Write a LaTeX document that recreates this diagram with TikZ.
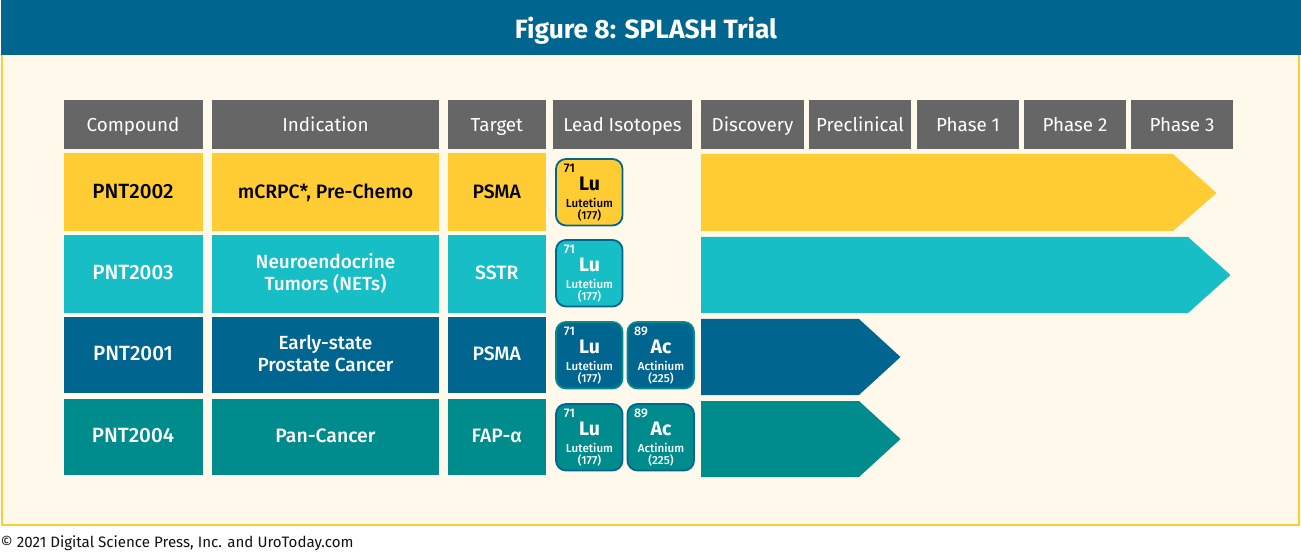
\documentclass[tikz,border=0pt]{standalone}
\usepackage{fontspec}
\setmainfont{Fira Sans}
\newfontfamily\medfont{Fira Sans Medium}
\definecolor{band}{HTML}{006690}
\definecolor{frameY}{HTML}{FFCC33}
\definecolor{paper}{HTML}{FFF9EB}
\definecolor{head}{HTML}{666666}
\definecolor{cyanT}{HTML}{17BEC6}
\definecolor{greenT}{HTML}{008C8C}
\definecolor{inkK}{HTML}{111111}
\tikzset{
  x=1pt,y=-1pt,
  cell/.style={inner sep=0pt,outer sep=0pt,align=center,text height=15pt,text depth=2pt,font=\fontsize{18.8}{22}\selectfont,text=white},
  rowtext/.style={font=\medfont\fontsize{19.4}{22}\selectfont,yshift=1pt},
  pnt/.style={font=\medfont\fontsize{20.6}{22}\selectfont},
  twoline/.style={yshift=-11pt,font=\medfont\fontsize{19}{22}\selectfont},
  darktext/.style={text=black},
  elsym/.style={inner sep=0pt,font=\fontsize{19.5}{20}\selectfont\bfseries},
  elnum/.style={inner sep=0pt,font=\medfont\fontsize{12.5}{13}\selectfont},
  elname/.style={inner sep=0pt,align=center,font=\medfont\fontsize{11.6}{12.2}\selectfont},
  elcard/.style={rounded corners=10pt,line width=1.8pt},
}
% name, x0, y0, x1, y1, fill, extra style, text
\newcommand{\cellbox}[8]{%
  \fill[#6] (#2,#3) rectangle (#4,#5);
  \node[cell,#7] (#1) at ({(#2+#4)/2},{(#3+#5)/2}) {#8};}
% name, x0, y0, fill, border, text colour, number, symbol, label (mass on line 2)
\newcommand{\element}[9]{%
  \draw[elcard,fill=#4,draw=#5] (#2,#3) rectangle ({#2+66.5},{#3+66.5});
  \node[elnum,text=#6]  (#1n) at ({#2+13.5},{#3+9.5}) {#7};
  \node[elsym,text=#6]  (#1s) at ({#2+33.5},{#3+24.7}) {#8};
  \node[elname,text=#6] (#1l) at ({#2+33.5},{#3+51}) {#9};}
\begin{document}
\begin{tikzpicture}
\useasboundingbox (0,0) rectangle (1301,553);
\fill[white] (0,0) rectangle (1301,553);
\draw[frameY,fill=paper,line width=2pt] (2,50) rectangle (1299,525);
\fill[band] (1,0) rectangle (1301,55.5);
\node[inner sep=0pt,text=white,font=\fontsize{26.4}{30}\selectfont\bfseries] (title) at (646,30.5) {Figure 8: SPLASH Trial};
% headers
\cellbox{h1}{63.5}{100}{202.5}{149}{head}{yshift=-0.5pt}{Compound}
\cellbox{h2}{212}{100}{439}{149}{head}{yshift=-0.5pt}{Indication}
\cellbox{h3}{447.5}{100}{546}{149}{head}{yshift=-0.5pt}{Target}
\cellbox{h4}{553}{100}{692}{149}{head}{yshift=-0.5pt}{Lead Isotopes}
\cellbox{h5}{701}{100}{804}{149}{head}{yshift=-0.5pt}{Discovery}
\cellbox{h6}{809}{100}{911}{149}{head}{yshift=-0.5pt}{Preclinical}
\cellbox{h7}{917}{100}{1019}{149}{head}{yshift=-0.5pt}{Phase 1}
\cellbox{h8}{1024}{100}{1126}{149}{head}{yshift=-0.5pt}{Phase 2}
\cellbox{h9}{1131}{100}{1233}{149}{head}{yshift=-0.5pt}{Phase 3}
% row 1
\cellbox{a1}{63.5}{153}{202.5}{231}{frameY}{rowtext,pnt,darktext,yshift=-1pt}{PNT2002}
\cellbox{a2}{212}{153}{439}{231}{frameY}{rowtext,darktext,yshift=-1pt}{mCRPC*, Pre-Chemo}
\cellbox{a3}{447.5}{153}{546}{231}{frameY}{rowtext,darktext,yshift=-1pt}{PSMA}
% row 2
\cellbox{b1}{63.5}{235}{202.5}{313}{cyanT}{rowtext,pnt}{PNT2003}
\cellbox{b2}{212}{235}{439}{313}{cyanT}{rowtext,twoline}{Neuroendocrine\\Tumors (NETs)}
\cellbox{b3}{447.5}{235}{546}{313}{cyanT}{rowtext}{SSTR}
% row 3
\cellbox{c1}{63.5}{317}{202.5}{393}{band}{rowtext,pnt}{PNT2001}
\cellbox{c2}{212}{317}{439}{393}{band}{rowtext,twoline}{Early-state\\Prostate Cancer}
\cellbox{c3}{447.5}{317}{546}{393}{band}{rowtext}{PSMA}
% row 4
\cellbox{d1}{63.5}{399}{202.5}{475}{greenT}{rowtext,pnt}{PNT2004}
\cellbox{d2}{212}{399}{439}{475}{greenT}{rowtext}{Pan-Cancer}
\cellbox{d3}{447.5}{399}{546}{475}{greenT}{rowtext}{FAP-α}
% elements
\element{e1}{556}{159}{frameY}{band}{black}{71}{Lu}{Lutetium\\(177)}
\element{e2}{556}{240}{cyanT}{band}{white}{71}{Lu}{Lutetium\\(177)}
\element{e3}{556}{322}{band}{greenT}{white}{71}{Lu}{Lutetium\\(177)}
\element{e4}{627.5}{322}{band}{greenT}{white}{89}{Ac}{Actinium\\(225)}
\element{e5}{556}{404}{greenT}{band}{white}{71}{Lu}{Lutetium\\(177)}
\element{e6}{627.5}{404}{greenT}{band}{white}{89}{Ac}{Actinium\\(225)}
% progress arrows
\fill[frameY] (701,154) -- (1173,154) -- (1216.5,193) -- (1173,231) -- (701,231) -- cycle;
\fill[cyanT] (701,237) -- (1188,237) -- (1230.5,275) -- (1188,313) -- (701,313) -- cycle;
\fill[band] (701,319) -- (859,319) -- (900.5,357) -- (859,395) -- (701,395) -- cycle;
\fill[greenT] (701,401) -- (859,401) -- (900.5,439) -- (859,477) -- (701,477) -- cycle;
\node[inner sep=0pt,anchor=base west,text=inkK,font=\fontsize{15.1}{16}\selectfont] (copy) at (0.5,547.5) {© 2021 Digital Science Press, Inc. and UroToday.com};
\end{tikzpicture}
\end{document}
